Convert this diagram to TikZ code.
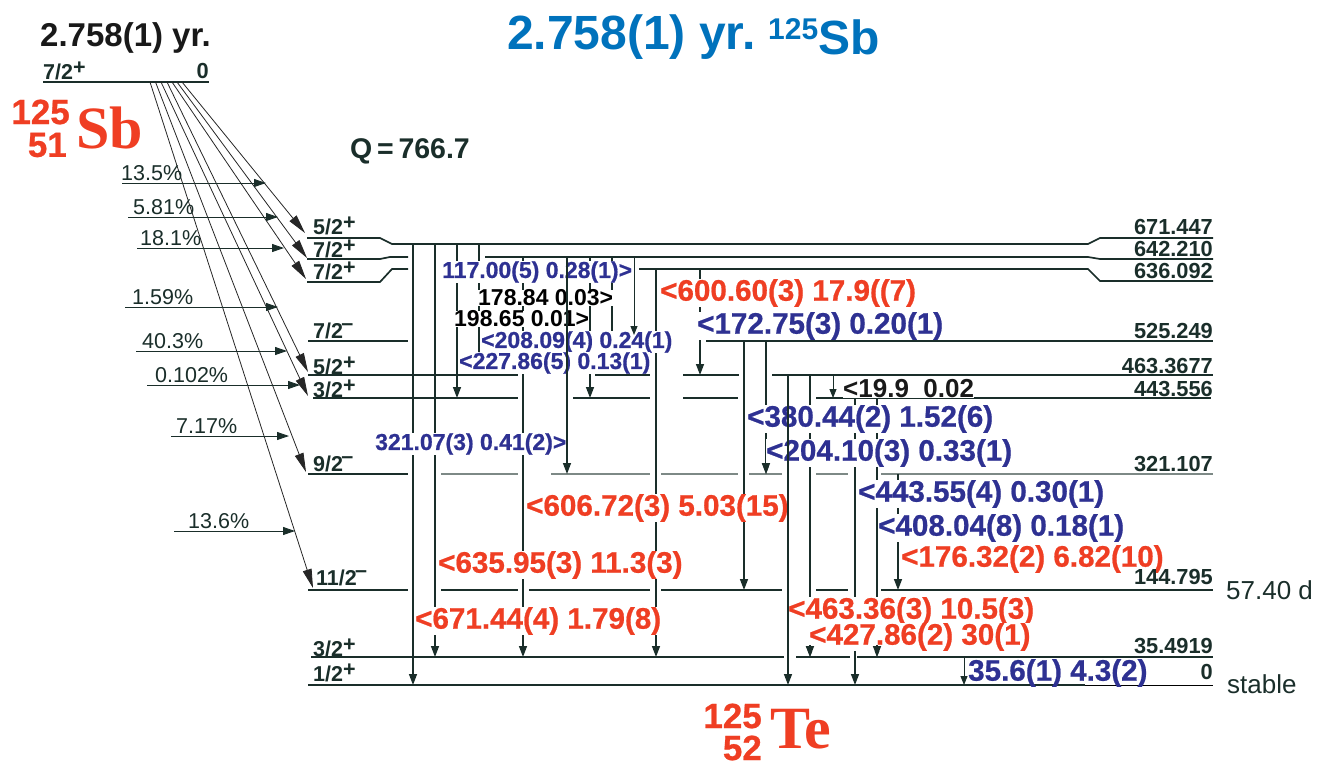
\documentclass[tikz,border=0pt]{standalone}
\usepackage{fontspec}
\setmainfont{Liberation Sans}
\newfontfamily\elemfont{Liberation Serif}
\newfontfamily\heavyfont[FakeBold=0.7]{Liberation Sans Bold}
\usetikzlibrary{arrows.meta}
\definecolor{lineink}{RGB}{26,46,42}
\definecolor{lineash}{RGB}{125,137,134}
\definecolor{isored}{RGB}{239,62,35}
\definecolor{isoblue}{RGB}{46,49,146}
\definecolor{titleblue}{RGB}{0,114,188}
\newcommand{\fsz}[1]{\fontsize{#1}{#1}\selectfont}
\newcommand{\pl}{\raisebox{.24em}{+}}
\newcommand{\mn}{\raisebox{.38em}{\kern-.08em –}}

\begin{document}
\begin{tikzpicture}[
    x=1pt, y=-1pt,
    lvl/.style={draw=lineink, line width=1.7pt},
    lvlash/.style={draw=lineash, line width=1.3pt},
    gam/.style={draw=lineink, line width=1.4pt, -{Triangle[length=11pt, width=8pt]}},
    gams/.style={draw=lineink, line width=1pt, -{Triangle[length=9pt, width=7pt]}},
    bet/.style={draw=black!85, line width=.8pt, -{Triangle[length=19pt, width=9pt]}},
    feed/.style={draw=lineink, line width=.9pt, -{Triangle[length=12pt, width=8pt]}},
    spin/.style={anchor=west, inner sep=0pt, text=lineink, font=\fsz{21.5}\bfseries},
    enrg/.style={anchor=east, inner sep=0pt, text=lineink, font=\fsz{21.8}\bfseries},
    pct/.style={anchor=west, inner sep=0pt, text=lineink, font=\fsz{21.5}},
    side/.style={anchor=west, inner sep=0pt, text=lineink, font=\fsz{26}},
    gred/.style={anchor=west, inner sep=0pt, yshift=-3pt, fill=white, text=isored, font=\fsz{29.6}\heavyfont},
    gblue/.style={anchor=west, inner sep=0pt, yshift=-3pt, fill=white, text=isoblue, font=\fsz{29.6}\heavyfont},
    gsmall/.style={anchor=west, inner sep=0pt, yshift=-2pt, fill=white, text=isoblue, font=\fsz{23}\heavyfont},
    gblack/.style={anchor=west, inner sep=0pt, yshift=-1pt, fill=white, text=black, font=\fsz{23}\bfseries},
    mass/.style={anchor=east, inner sep=0pt, text=isored, font=\fsz{35}\heavyfont},
    elem/.style={anchor=west, inner sep=0pt, text=isored, font=\fsz{60}\elemfont\bfseries},
    head/.style={anchor=west, inner sep=0pt, text=titleblue}
  ]
  \useasboundingbox (0,0) rectangle (1317,761);

  % Titles
  \node[head, font=\fsz{48}\bfseries] (title) at (507,37) {2.758(1) yr.};
  \node[head, font=\fsz{30}\bfseries] (titleA) at (768,29) {125};
  \node[head, font=\fsz{48}\bfseries] (titleS) at (818,37) {Sb};
  \node[anchor=west, inner sep=0pt, text=black!90, font=\fsz{33}\bfseries] (halflife) at (40,38) {2.758(1) yr.};
  \node[mass] (sbA) at (70,112) {125};
  \node[mass] (sbZ) at (67,145) {51};
  \node[elem] (sb) at (76,128) {Sb};
  \node[mass] (teA) at (762,716) {125};
  \node[mass] (teZ) at (762,748) {52};
  \node[elem] (te) at (770,729) {Te};
  \node[anchor=west, inner sep=0pt, text=lineink, font=\fsz{28.5}\bfseries] (qval) at (350,151) {Q\,{=}\,766.7};

  % Level heights
  \coordinate (parent) at (0,82);
  \coordinate (e671) at (0,244);
  \coordinate (e642) at (0,257);
  \coordinate (e636) at (0,269);
  \coordinate (e525) at (0,341);
  \coordinate (e463) at (0,375);
  \coordinate (e443) at (0,398);
  \coordinate (e321) at (0,474);
  \coordinate (e144) at (0,590);
  \coordinate (e35) at (0,657);
  \coordinate (e0) at (0,685);

  % Levels
  \draw[lvl] (43,82) -- (209,82);
  \draw[lvl] (307,238) -- (380,238) -- (392,244) -- (1088,244) -- (1100,238) -- (1213,238);
  \draw[lvl] (307,259) -- (380,259) -- (390,257) -- (408,257);
  \draw[lvl] (485,257) -- (1088,257) -- (1100,259) -- (1213,259);
  \draw[lvl] (307,282) -- (380,282) -- (392,269) -- (408,269);
  \draw[lvl] (639,269) -- (1088,269) -- (1100,281) -- (1213,281);
  \foreach \lv/\a/\b in {e525/308/408, e525/706/1213,
      e463/308/518, e463/595/650, e463/683/739, e463/772/1213,
      e443/313/518, e443/573/650, e443/683/738, e443/816/1211,
      e321/308/408,
      e144/308/408, e144/441/518, e144/529/650, e144/661/782, e144/816/848, e144/881/1213,
      e35/311/784, e35/796/850, e35/857/1213,
      e0/308/1085} {
    \draw[lvl] (\a,0 |- \lv) -- (\b,0 |- \lv);
  }
  \draw[draw=black, line width=.9pt] (1085,0 |- e0) -- (1213,0 |- e0);
  \foreach \a/\b in {441/518, 551/650, 661/738, 749/782, 816/848, 881/1213} {
    \draw[lvlash] (\a,0 |- e321) -- (\b,0 |- e321);
  }

  % Gamma transitions
  \foreach \x/\a/\b in {413/e671/e0, 435/e671/e35, 457/e671/e443, 479/e671/e463,
      523/e642/e35, 590/e642/e443, 612/e642/e463,
      656/e636/e35, 700/e636/e463, 744/e525/e144, 766/e525/e321,
      810/e463/e35, 855/e443/e0, 877/e443/e35, 898/e321/e144} {
    \draw[gam] (\x,0 |- \a) -- (\x,0 |- \b);
  }
  \draw[gams] (833,0 |- e463) -- (833,0 |- e443);
  \draw[gams] (964,0 |- e35) -- (964,0 |- e0);

  % Gamma labels
  \node[gred] (g600) at (660,290) {<600.60(3) 17.9((7)};
  \node[gred] (g606) at (526,505) {<606.72(3) 5.03(15)};
  \node[gred] (g635) at (438,562) {<635.95(3) 11.3(3)};
  \node[gred] (g671) at (415,618) {<671.44(4) 1.79(8)};
  \node[gred] (g176) at (901,556) {<176.32(2) 6.82(10)};
  \node[gred] (g463) at (788,608) {<463.36(3) 10.5(3)};
  \node[gred] (g427) at (809,634) {<427.86(2) 30(1)};
  \node[gblue] (g172) at (697,323) {<172.75(3) 0.20(1)};
  \node[gblue] (g380) at (747,416) {<380.44(2) 1.52(6)};
  \node[gblue] (g204) at (766,450) {<204.10(3) 0.33(1)};
  \node[gblue] (g443) at (858,491) {<443.55(4) 0.30(1)};
  \node[gblue] (g408) at (878,525) {<408.04(8) 0.18(1)};
  \node[gblue, fill=none] (g35) at (968,670) {35.6(1) 4.3(2)};
  \node[gsmall] (g117) at (442,270) {117.00(5) 0.28(1)>};
  \node[gsmall] (g321) at (375,442) {321.07(3) 0.41(2)>};
  \node[gblack] (g178) at (478,297) {178.84 0.03>};
  \node[gblack] (g198) at (454,318) {198.65 0.01>};
  \node[gsmall] (g208) at (481,340) {<208.09(4) 0.24(1)};
  \node[gsmall] (g227) at (459,361) {<227.86(5) 0.13(1)};
  \node[gblack, font=\fsz{26}\bfseries, text=black!90] (g19) at (843,388) {<19.9\ \ 0.02};

  % These stay in front of the labels
  \coordinate (tail766) at (766,464);
  \coordinate (tail810) at (810,645);
  \coordinate (tail877) at (877,645);
  \draw[gam] (567,0 |- e642) -- (567,0 |- e321);
  \draw[gams] (634,0 |- e642) -- (634,335);
  \draw[gam] (788,0 |- e463) -- (788,0 |- e0);
  \draw[gam] (tail766) -- (766,0 |- e321);
  \draw[gam] (tail810) -- (810,0 |- e35);
  \draw[gam] (tail877) -- (877,0 |- e35);

  % Spins
  \node[spin] (s0) at (43,71) {7/2\pl};
  \node[spin] (s671) at (313,226) {5/2\pl};
  \node[spin] (s642) at (313,249) {7/2\pl};
  \node[spin] (s636) at (313,271) {7/2\pl};
  \node[spin] (s525) at (313,331) {7/2\mn};
  \node[spin] (s463) at (313,366) {5/2\pl};
  \node[spin] (s443) at (313,389) {3/2\pl};
  \node[spin] (s321) at (313,464) {9/2\mn};
  \node[spin] (s144) at (316,578) {11/2\mn};
  \node[spin] (s35) at (313,648) {3/2\pl};
  \node[spin] (s00) at (313,673) {1/2\pl};

  % Energies
  \node[enrg] (l0) at (209,71) {0};
  \node[enrg] (l671) at (1213,227) {671.447};
  \node[enrg] (l642) at (1213,249) {642.210};
  \node[enrg] (l636) at (1213,271) {636.092};
  \node[enrg] (l525) at (1213,331) {525.249};
  \node[enrg] (l463) at (1213,366) {463.3677};
  \node[enrg] (l443) at (1213,389) {443.556};
  \node[enrg] (l321) at (1213,464) {321.107};
  \node[enrg] (l144) at (1213,577) {144.795};
  \node[enrg] (l35) at (1213,646) {35.4919};
  \node[enrg] (l00) at (1213,672) {0};
  \node[side] (t144) at (1226,590) {57.40 d};
  \node[side] (t00) at (1227,684) {stable};

  % Beta branches
  \coordinate (t671) at (305,233);
  \coordinate (t642) at (307,258);
  \coordinate (t636) at (306,279);
  \coordinate (t463) at (308,372);
  \coordinate (t443) at (308,396);
  \coordinate (t321) at (306,472);
  \coordinate (t144) at (313,588);
  \foreach \s/\t in {182/t671, 177/t642, 172/t636, 167/t463, 161/t443, 155.5/t321, 150/t144} {
    \draw[bet] (\s,0 |- parent) -- (\t);
  }

  % Branching percentages
  \foreach \pc/\xa/\xb/\yy/\xl [count=\i] in {13.5/122/266/183/121, 5.81/128/278/217/133,
      18.1/137/284/248/140, 1.59/125/278/307/132, 40.3/136/287/351/142,
      0.102/147/300/385/155, 7.17/171/289/436/176, 13.6/174/295/531/188} {
    \coordinate (fa\i) at (\xa,\yy);
    \coordinate (fb\i) at (\xb,\yy);
    \node[pct] (fl\i) at (\xl,\yy-10) {\pc\%};
    \draw[feed] (fa\i) -- (fb\i);
  }
\end{tikzpicture}
\end{document}
